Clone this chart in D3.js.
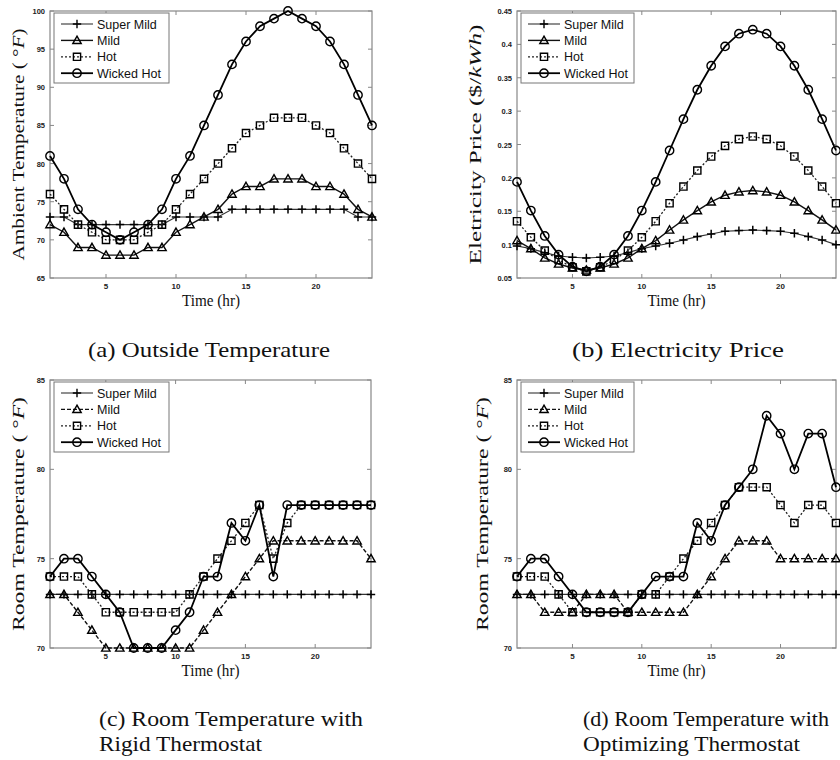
<!DOCTYPE html>
<html>
<head>
<meta charset="utf-8">
<script src="https://cdn.jsdelivr.net/npm/d3@7"></script>
<style>
  body { margin: 0; background: #fff; }
  svg { display: block; }
</style>
</head>
<body>
<svg id="chart" width="840" height="760"></svg>
<script>
// hours on the x axis
var hours = [1, 2, 3, 4, 5, 6, 7, 8, 9, 10, 11, 12, 13, 14, 15, 16, 17, 18, 19, 20, 21, 22, 23, 24];
var seriesNames = ["Super Mild", "Mild", "Hot", "Wicked Hot"];
var xTicks = [5, 10, 15, 20];

// (a) outside temperature
var outsideSuperMild = [73, 73, 72, 72, 72, 72, 72, 72, 72, 73, 73, 73, 73, 74, 74, 74, 74, 74, 74, 74, 74, 74, 73, 73];
var outsideMild = [72, 71, 69, 69, 68, 68, 68, 69, 69, 71, 72, 73, 74, 76, 77, 77, 78, 78, 78, 77, 77, 76, 74, 73];
var outsideHot = [76, 74, 72, 71, 70, 70, 70, 71, 72, 74, 76, 78, 80, 82, 84, 85, 86, 86, 86, 85, 84, 82, 80, 78];
var outsideWicked = [81, 78, 74, 72, 71, 70, 71, 72, 74, 78, 81, 85, 89, 93, 96, 98, 99, 100, 99, 98, 96, 93, 89, 85];
var outsideTicks = [65, 70, 75, 80, 85, 90, 95, 100];

// (b) electricity price
var priceSuperMild = [0.098, 0.094, 0.088, 0.083, 0.081, 0.080, 0.081, 0.083, 0.088, 0.094, 0.098, 0.102, 0.107, 0.112, 0.116, 0.120, 0.121, 0.122, 0.121, 0.120, 0.117, 0.112, 0.107, 0.100];
var priceMild = [0.106, 0.094, 0.080, 0.071, 0.065, 0.062, 0.065, 0.071, 0.080, 0.094, 0.106, 0.122, 0.137, 0.151, 0.164, 0.174, 0.179, 0.181, 0.179, 0.174, 0.164, 0.151, 0.137, 0.122];
var priceHot = [0.135, 0.111, 0.091, 0.077, 0.066, 0.060, 0.066, 0.077, 0.091, 0.111, 0.135, 0.162, 0.187, 0.211, 0.232, 0.248, 0.258, 0.262, 0.258, 0.248, 0.232, 0.211, 0.187, 0.162];
var priceWicked = [0.194, 0.151, 0.113, 0.085, 0.067, 0.060, 0.067, 0.085, 0.113, 0.151, 0.194, 0.241, 0.288, 0.332, 0.368, 0.397, 0.416, 0.422, 0.416, 0.397, 0.368, 0.332, 0.288, 0.241];
var priceTicks = [0.05, 0.1, 0.15, 0.2, 0.25, 0.3, 0.35, 0.4, 0.45];

// (c) room temperature, rigid thermostat
var rigidSuperMild = [73, 73, 73, 73, 73, 73, 73, 73, 73, 73, 73, 73, 73, 73, 73, 73, 73, 73, 73, 73, 73, 73, 73, 73];
var rigidMild = [73, 73, 72, 71, 70, 70, 70, 70, 70, 70, 70, 71, 72, 73, 74, 75, 76, 76, 76, 76, 76, 76, 76, 75];
var rigidHot = [74, 74, 74, 73, 72, 72, 72, 72, 72, 72, 73, 74, 75, 76, 77, 78, 75, 77, 78, 78, 78, 78, 78, 78];
var rigidWicked = [74, 75, 75, 74, 73, 72, 70, 70, 70, 71, 72, 74, 74, 77, 76, 78, 74, 78, 78, 78, 78, 78, 78, 78];

// (d) room temperature, optimizing thermostat
var optSuperMild = [73, 73, 73, 73, 73, 73, 73, 73, 73, 73, 73, 73, 73, 73, 73, 73, 73, 73, 73, 73, 73, 73, 73, 73];
var optMild = [73, 73, 72, 72, 72, 73, 73, 73, 72, 72, 72, 72, 72, 73, 74, 75, 76, 76, 76, 75, 75, 75, 75, 75];
var optHot = [74, 74, 74, 73, 72, 72, 72, 72, 72, 73, 73, 74, 75, 76, 77, 78, 79, 79, 79, 78, 77, 78, 78, 77];
var optWicked = [74, 75, 75, 74, 73, 72, 72, 72, 72, 73, 74, 74, 74, 77, 76, 78, 79, 80, 83, 82, 80, 82, 82, 79];
var roomTicks = [70, 75, 80, 85];

var svg = d3.select("#chart");
var serif = "'Liberation Serif', 'Times New Roman', serif";
var sans = "'Liberation Sans', Arial, sans-serif";

// marker outlines, s = half size
function markerPath(type, s)
{
    if (type == "plus") return "M" + (-s) + ",0H" + s + "M0," + (-s) + "V" + s;
    if (type == "triangle") return "M0," + (-s) + "L" + s + "," + (s * 0.75) + "L" + (-s) + "," + (s * 0.75) + "Z";
    if (type == "square") return "M" + (-s) + "," + (-s) + "H" + s + "V" + s + "H" + (-s) + "Z";
    return "M" + (-s) + ",0A" + s + "," + s + " 0 1,0 " + s + ",0A" + s + "," + s + " 0 1,0 " + (-s) + ",0Z";
}
var markerTypes = ["plus", "triangle", "square", "circle"];
var markerSizes = [4.2, 4.2, 3.6, 4.2];
var lineWidths = [1.1, 1.4, 1.3, 1.8];
var lineColors = ["#333", "#111", "#222", "#000"];

function drawPanel(p)
{
    var g = svg.append("g");
    var x = d3.scaleLinear().domain([1, 24]).range([p.left, p.right]);
    var y = d3.scaleLinear().domain(p.yDomain).range([p.bottom, p.top]);

    // frame
    g.append("rect")
        .attr("x", p.left).attr("y", p.top)
        .attr("width", p.right - p.left).attr("height", p.bottom - p.top)
        .attr("fill", "none").attr("stroke", "#888").attr("stroke-width", 1.2);

    // matlab style inner ticks on all four sides
    var tickLen = 4;
    xTicks.forEach(function (t)
    {
        g.append("line").attr("x1", x(t)).attr("x2", x(t)).attr("y1", p.bottom).attr("y2", p.bottom - tickLen).attr("stroke", "#888");
        g.append("line").attr("x1", x(t)).attr("x2", x(t)).attr("y1", p.top).attr("y2", p.top + tickLen).attr("stroke", "#888");
        g.append("text").attr("x", x(t)).attr("y", p.bottom + 11)
            .attr("text-anchor", "middle").attr("font-family", sans).attr("font-weight", "bold")
            .attr("font-size", 8).attr("fill", "#222").text(t);
    });
    p.yTicks.forEach(function (t)
    {
        g.append("line").attr("x1", p.left).attr("x2", p.left + tickLen).attr("y1", y(t)).attr("y2", y(t)).attr("stroke", "#888");
        g.append("line").attr("x1", p.right).attr("x2", p.right - tickLen).attr("y1", y(t)).attr("y2", y(t)).attr("stroke", "#888");
        g.append("text").attr("x", p.left - 5).attr("y", y(t) + 3)
            .attr("text-anchor", "end").attr("font-family", sans).attr("font-weight", "bold")
            .attr("font-size", 7.5).attr("fill", "#222").text(p.yFormat(t));
    });

    // series lines and markers
    var line = d3.line()
        .x(function (d, i) { return x(hours[i]); })
        .y(function (d) { return y(d); });

    p.series.forEach(function (values, k)
    {
        g.append("path")
            .attr("d", line(values))
            .attr("fill", "none")
            .attr("stroke", lineColors[k])
            .attr("stroke-width", lineWidths[k])
            .attr("stroke-dasharray", p.dashes[k]);
        g.selectAll(null).data(values).enter().append("path")
            .attr("transform", function (d, i) { return "translate(" + x(hours[i]) + "," + y(d) + ")"; })
            .attr("d", markerPath(markerTypes[k], markerSizes[k]))
            .attr("fill", "none")
            .attr("stroke", "#000")
            .attr("stroke-width", k == 0 ? 1.5 : 1.4);
    });

    // legend
    var lx = p.left + 4, ly = p.top + 2;
    g.append("rect").attr("x", lx).attr("y", ly).attr("width", p.legendW).attr("height", 70)
        .attr("fill", "#fff").attr("stroke", "#777").attr("stroke-width", 1);
    seriesNames.forEach(function (name, k)
    {
        var yy = ly + 11 + k * 16.4;
        g.append("line").attr("x1", lx + 7).attr("x2", lx + 39).attr("y1", yy).attr("y2", yy)
            .attr("stroke", lineColors[k]).attr("stroke-width", lineWidths[k])
            .attr("stroke-dasharray", p.dashes[k]);
        g.append("path").attr("transform", "translate(" + (lx + 23) + "," + yy + ")")
            .attr("d", markerPath(markerTypes[k], markerSizes[k]))
            .attr("fill", "none").attr("stroke", "#000").attr("stroke-width", 1.4);
        g.append("text").attr("x", lx + 43).attr("y", yy + 4.5)
            .attr("font-family", sans).attr("font-size", 12.5).attr("fill", "#111").text(name);
    });

    // axis titles
    g.append("text").attr("x", (p.left + p.right) / 2).attr("y", p.bottom + 28)
        .attr("text-anchor", "middle").attr("font-family", serif).attr("font-size", 16)
        .attr("fill", "#111").attr("textLength", 58).attr("lengthAdjust", "spacingAndGlyphs")
        .text("Time (hr)");

    var yl = g.append("text")
        .attr("transform", "translate(" + p.yLabelX + "," + ((p.top + p.bottom) / 2) + ") rotate(-90)")
        .attr("text-anchor", "middle").attr("font-family", serif).attr("font-size", 16)
        .attr("fill", "#111").attr("textLength", p.yLabelLen).attr("lengthAdjust", "spacingAndGlyphs");
    p.yLabel.forEach(function (part)
    {
        yl.append("tspan").attr("font-style", part[1] ? "italic" : "normal").text(part[0]);
    });

    // caption
    p.caption.forEach(function (c)
    {
        g.append("text").attr("x", c.x).attr("y", c.y)
            .attr("text-anchor", c.anchor).attr("font-family", serif).attr("font-size", 22)
            .attr("fill", "#111").attr("textLength", c.len).attr("lengthAdjust", "spacingAndGlyphs")
            .text(c.text);
    });
}

var tempFormat = function (d) { return d; };
var priceFormat = function (d) { return String(+d.toFixed(2)); };

drawPanel({
    left: 50, right: 372, top: 11, bottom: 278,
    yDomain: [65, 100], yTicks: outsideTicks, yFormat: tempFormat,
    series: [outsideSuperMild, outsideMild, outsideHot, outsideWicked],
    dashes: [null, null, "2,2", null], legendW: 115,
    yLabelX: 24, yLabelLen: 232,
    yLabel: [["Ambient Temperature ( °", false], ["F", true], [")", false]],
    caption: [{ x: 209, y: 357, anchor: "middle", len: 242, text: "(a) Outside Temperature" }]
});

drawPanel({
    left: 517, right: 836, top: 11, bottom: 278,
    yDomain: [0.05, 0.45], yTicks: priceTicks, yFormat: priceFormat,
    series: [priceSuperMild, priceMild, priceHot, priceWicked],
    dashes: [null, null, "2,2", null], legendW: 113,
    yLabelX: 481, yLabelLen: 240,
    yLabel: [["Eletricity Price ($/", false], ["kWh", true], [")", false]],
    caption: [{ x: 678, y: 357, anchor: "middle", len: 212, text: "(b)  Electricity Price" }]
});

drawPanel({
    left: 50, right: 371, top: 380, bottom: 648,
    yDomain: [70, 85], yTicks: roomTicks, yFormat: tempFormat,
    series: [rigidSuperMild, rigidMild, rigidHot, rigidWicked],
    dashes: [null, "4,2", "2,2", null], legendW: 115,
    yLabelX: 24, yLabelLen: 234,
    yLabel: [["Room Temperature ( °", false], ["F", true], [")", false]],
    caption: [
        { x: 99, y: 726, anchor: "start", len: 264, text: "(c) Room Temperature with" },
        { x: 99, y: 751, anchor: "start", len: 163, text: "Rigid Thermostat" }
    ]
});

drawPanel({
    left: 517, right: 836, top: 380, bottom: 648,
    yDomain: [70, 85], yTicks: roomTicks, yFormat: tempFormat,
    series: [optSuperMild, optMild, optHot, optWicked],
    dashes: [null, "4,2", "2,2", null], legendW: 113,
    yLabelX: 488, yLabelLen: 234,
    yLabel: [["Room Temperature ( °", false], ["F", true], [")", false]],
    caption: [
        { x: 583, y: 726, anchor: "start", len: 246, text: "(d) Room Temperature with" },
        { x: 583, y: 751, anchor: "start", len: 217, text: "Optimizing Thermostat" }
    ]
});
</script>
</body>
</html>
